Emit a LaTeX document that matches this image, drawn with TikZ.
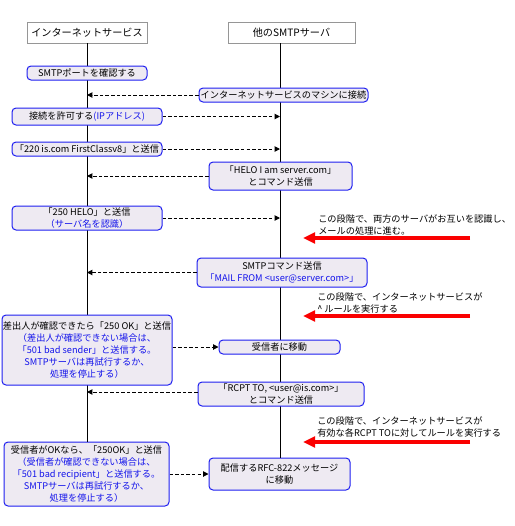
\documentclass[tikz,border=0pt]{standalone}
\usepackage{fontspec}
\setmainfont{Noto Sans CJK JP}
\usetikzlibrary{arrows.meta}
\definecolor{lav}{RGB}{238,234,242}
\definecolor{bblue}{RGB}{30,30,240}
\definecolor{tblue}{RGB}{20,20,235}
\definecolor{hgray}{RGB}{150,150,150}
\definecolor{ared}{RGB}{250,0,0}
\tikzset{
  hdr/.style={draw=hgray, fill=white, line width=0.75pt, inner sep=0pt, font=\fontsize{7.6pt}{9pt}\selectfont},
  box/.style={draw=bblue, fill=lav, line width=0.75pt, rounded corners=3pt, inner sep=0pt, align=center, font=\fontsize{6.9pt}{9pt}\selectfont},
  life/.style={draw=black, line width=0.75pt},
  msg/.style={draw=black, line width=0.75pt, dash pattern=on 2.6pt off 1.6pt, -{Triangle[length=4pt,width=4pt]}},
  note/.style={inner sep=0pt, align=left, anchor=west, font=\fontsize{6.9pt}{9pt}\selectfont},
  redarrow/.style={draw=ared, line width=2.3pt, -{Triangle[length=9pt,width=8pt]}}
}
\newcommand{\bl}[1]{\textcolor{tblue}{#1}}
\begin{document}
\begin{tikzpicture}[x=0.75pt,y=-0.75pt]
\useasboundingbox (0,0) rectangle (515,526);
% headers
\node[hdr, minimum width=90pt, minimum height=15.75pt] (hL) at (87,32.5) {インターネットサービス};
\node[hdr, minimum width=95.25pt, minimum height=15.75pt] (hR) at (291.5,32.5) {他のSMTPサーバ};
\coordinate (lifeL) at (87,43);
\coordinate (lifeR) at (280,43);
% boxes
\node[box, minimum width=123.75pt, minimum height=48pt] (b11) at (86.5,474) {受信者がOKなら、「250OK」と送信\\\bl{（受信者が確認できない場合は、}\\\bl{「501 bad recipient」と送信する。}\\\bl{SMTPサーバは再試行するか、}\\\bl{処理を停止する）}};
\node[box, minimum width=105.75pt, minimum height=24pt] (b12) at (279.5,474) {配信するRFC-822メッセージ\\に移動};
\draw[life] (lifeL) -- (b11.north -| lifeL);
\draw[life] (lifeR) -- (b12.north -| lifeR);
\node[box, minimum width=90pt, minimum height=10.5pt] (b1) at (87,73) {SMTPポートを確認する};
\node[box, minimum width=126.75pt, minimum height=10.5pt] (b2) at (283.5,95) {インターネットサービスのマシンに接続};
\node[box, minimum width=112.5pt, minimum height=12.75pt] (b3) at (87,116.5) {接続を許可する\bl{(IPアドレス)}};
\node[box, minimum width=112.5pt, minimum height=10.5pt] (b4) at (87,149) {「220 is.com FirstClassv8」と送信};
\node[box, minimum width=107.25pt, minimum height=21pt] (b5) at (280.5,176) {「HELO I am server.com」\\とコマンド送信};
\node[box, minimum width=112.5pt, minimum height=18pt] (b6) at (87,218) {「250 HELO」と送信\\\bl{（サーバ名を認識）}};
\node[box, minimum width=127.5pt, minimum height=21.75pt] (b7) at (282,272.5) {SMTPコマンド送信\\\bl{「MAIL FROM <user@server.com>」}};
\node[box, minimum width=127.5pt, minimum height=52.5pt] (b8) at (87,350) {差出人が確認できたら「250 OK」と送信\\\bl{（差出人が確認できない場合は、}\\\bl{「501 bad sender」と送信する。}\\\bl{SMTPサーバは再試行するか、}\\\bl{処理を停止する）}};
\node[box, minimum width=90.75pt, minimum height=10.5pt] (b9) at (279.5,347) {受信者に移動};
\node[box, minimum width=124.5pt, minimum height=18pt] (b10) at (281,394) {「RCPT TO, <user@is.com>」\\とコマンド送信};
% messages
\draw[msg] (b2.west) -- (b2.west -| lifeL);
\draw[msg] (b3.east) -- (b3.east -| lifeR);
\draw[msg] (b4.east) -- (b4.east -| lifeR);
\draw[msg] (b5.west) -- (b5.west -| lifeL);
\draw[msg] (b6.east) -- (b6.east -| lifeR);
\draw[msg] (b7.west) -- (b7.west -| lifeL);
\draw[msg] (b8.east |- b9.west) -- (b9.west);
\draw[msg] ([yshift=1.5pt]b10.west) -- ([yshift=1.5pt]b10.west -| lifeL);
\draw[msg] (b11.east |- b12.west) -- (b12.west);
% notes
\node[note] (n1) at (318,225) {この段階で、両方のサーバがお互いを認識し、\\メールの処理に進む。};
\node[note] (n2) at (317,303) {この段階で、インターネットサービスが\\\textasciicircum\ ルールを実行する};
\node[note] (n3) at (317,427) {この段階で、インターネットサービスが\\有効な各RCPT TOに対してルールを実行する};
\coordinate (r1s) at (470,238); \coordinate (r1e) at (303,238);
\coordinate (r2s) at (470,316); \coordinate (r2e) at (303,316);
\coordinate (r3s) at (470,442); \coordinate (r3e) at (303,442);
\draw[redarrow] (r1s) -- (r1e);
\draw[redarrow] (r2s) -- (r2e);
\draw[redarrow] (r3s) -- (r3e);
\end{tikzpicture}
\end{document}
